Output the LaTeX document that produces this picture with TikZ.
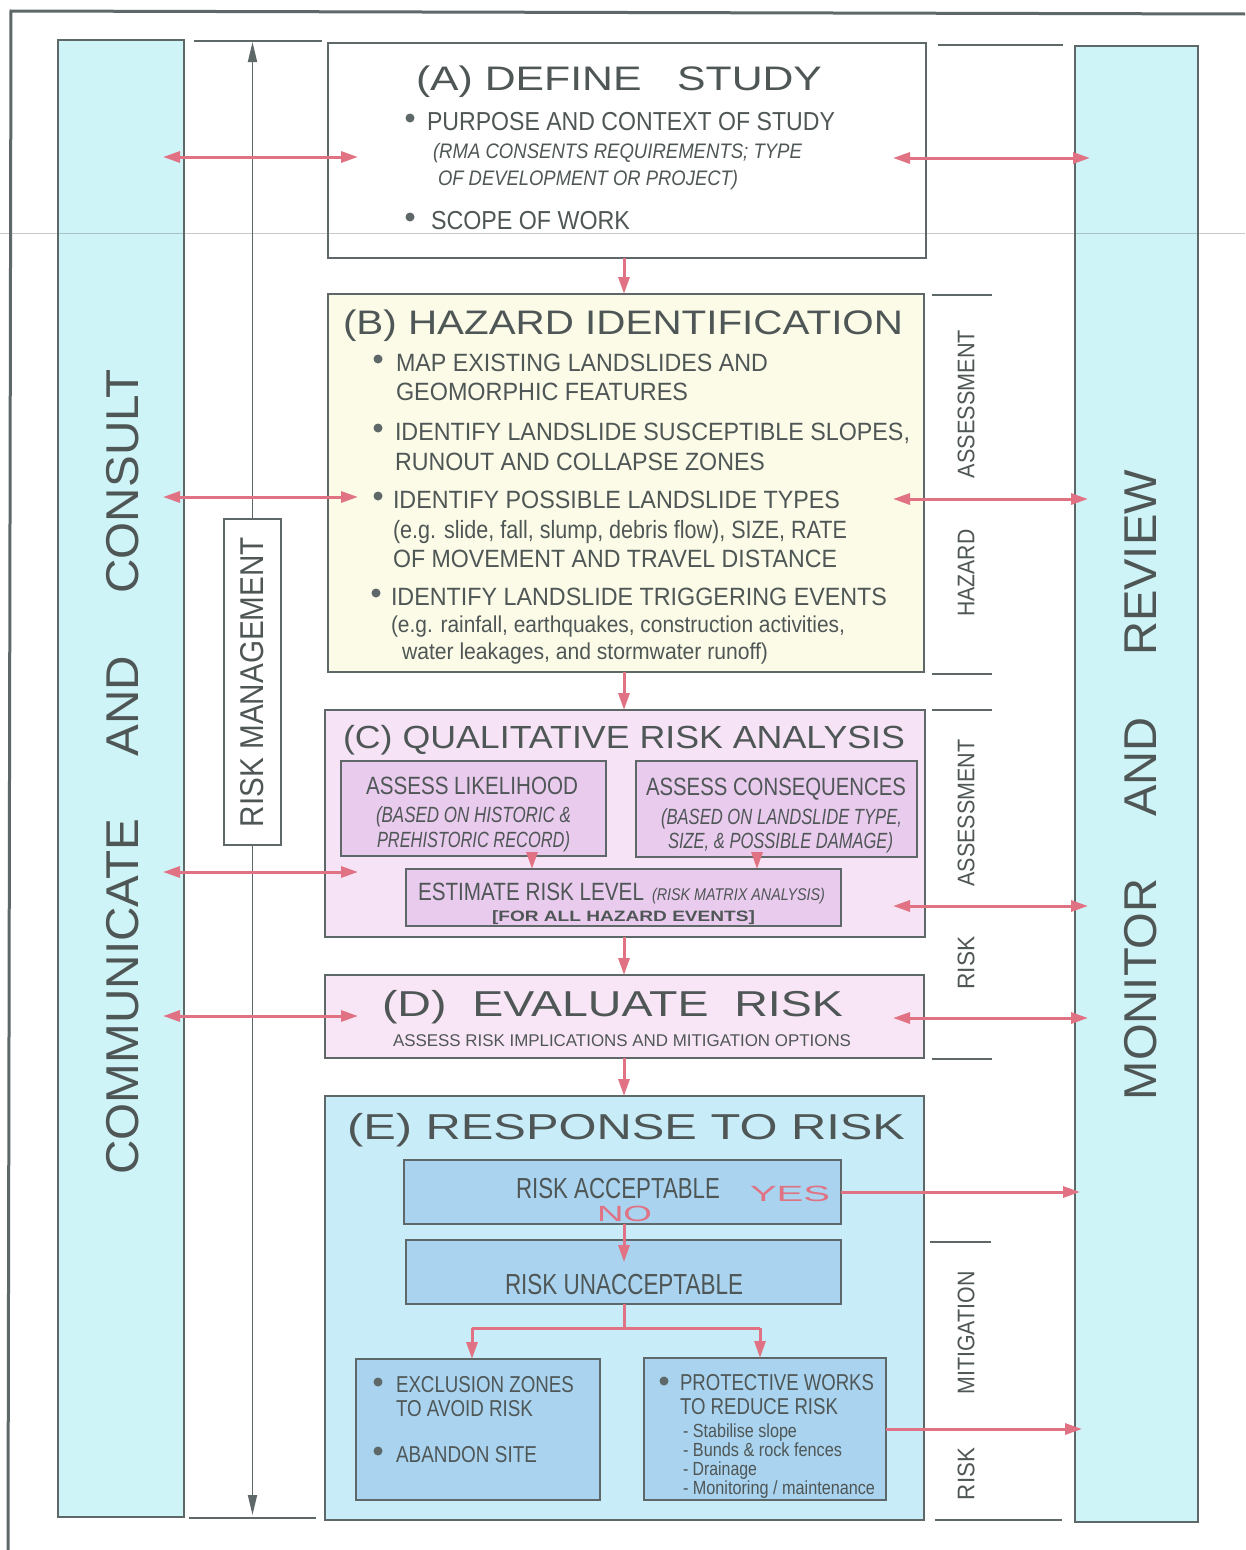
\documentclass[tikz,border=0pt]{standalone}
\usepackage{fontspec}
\setmainfont{Liberation Sans}
\usetikzlibrary{arrows.meta}
\definecolor{lgray}{HTML}{5E6868}
\definecolor{tgray}{HTML}{4F5656}
\definecolor{cyanbar}{HTML}{CFF4F7}
\definecolor{fillB}{HTML}{FBFBE7}
\definecolor{fillC}{HTML}{F6E3F6}
\definecolor{fillCi}{HTML}{E9CBEE}
\definecolor{fillD}{HTML}{F8E6F6}
\definecolor{fillE}{HTML}{C9ECF9}
\definecolor{fillEi}{HTML}{A9D3EE}
\definecolor{ared}{HTML}{E07283}
\newsavebox\fitbox
\newcommand\fitw[2]{\sbox\fitbox{#2}\edef\fitwd{\the\wd\fitbox}\pgfmathsetmacro\fitfx{#1/\fitwd}\scalebox{\fitfx}[1]{\usebox\fitbox}}
\newcommand\fsz[1]{\fontsize{#1}{#1}\selectfont}
\newcommand\mkbox[6]{\node[frame,#6,minimum width={(#4-#2)*1pt},minimum height={(#5-#3)*1pt}] (#1) at (#2,#3) {};}
\begin{document}
\begin{tikzpicture}[x=1pt,y=-1pt,
  frame/.style={draw=lgray, line width=2.4pt, inner sep=0pt, outer sep=0pt, anchor=north west},
  txt/.style={inner sep=0pt, outer sep=0pt, text=tgray, anchor=base west},
  rtxt/.style={inner sep=0pt, outer sep=0pt, text=tgray, anchor=center, rotate=90},
  dot/.style={circle, fill=lgray, inner sep=0pt, minimum size=9pt},
  redline/.style={draw=ared, line width=3pt},
  redarrow/.style={redline, -{Triangle[length=17pt,width=11pt]}},
  dbl/.style={redline, {Triangle[length=17pt,width=11pt]}-{Triangle[length=17pt,width=11pt]}},
  grayarrow/.style={draw=lgray, line width=1.8pt, -{Triangle[length=20pt,width=9pt]}},
  tick/.style={draw=lgray, line width=2pt}]
\useasboundingbox (0,0) rectangle (1245,1550);
\fill[white] (0,0) rectangle (1245,1550);
% outer frame (top and left edges)
\draw[lgray, line width=3pt] (1245,14) -- (11,11) -- (8,1550);
% side bars
\mkbox{lbar}{58}{40}{184}{1517}{fill=cyanbar}
\mkbox{rbar}{1075}{46}{1198}{1522}{fill=cyanbar}
\node[rtxt] (comm) at (123,772) {\fsz{46}\fitw{805}{COMMUNICATE\hspace{60pt}AND\hspace{60pt}CONSULT}};
\node[rtxt] (mon) at (1141,785) {\fsz{46}\fitw{630}{MONITOR\hspace{60pt}AND\hspace{60pt}REVIEW}};
% risk management
\mkbox{rm}{224}{519}{281}{845}{fill=white}
\node[rtxt] (rmt) at (rm.center) {\fsz{33}\fitw{290}{RISK MANAGEMENT}};
\coordinate (rmtop) at (252.5,42);
\coordinate (rmbot) at (252.5,1515);
\draw[grayarrow] (rm.north) -- (rmtop);
\draw[grayarrow] (rm.south) -- (rmbot);
\draw[tick] (194,41) -- (322,41);
\draw[tick] (189,1518) -- (316,1518);
% right ticks
\draw[tick] (938,45) -- (1063,45);
\draw[tick] (932,295) -- (992,295);
\draw[tick] (932,674) -- (992,674);
\draw[tick] (932,710) -- (992,710);
\draw[tick] (932,1059) -- (992,1059);
\draw[tick] (930,1242) -- (991,1242);
\draw[tick] (935,1520) -- (1062,1520);
\node[rtxt] (l1) at (966,404) {\fsz{24}\fitw{148}{ASSESSMENT}};
\node[rtxt] (l2) at (966,573) {\fsz{24}\fitw{87}{HAZARD}};
\node[rtxt] (l3) at (966,813) {\fsz{24}\fitw{147}{ASSESSMENT}};
\node[rtxt] (l4) at (966,963) {\fsz{24}\fitw{53}{RISK}};
\node[rtxt] (l5) at (966,1333) {\fsz{24}\fitw{123}{MITIGATION}};
\node[rtxt] (l6) at (966,1474) {\fsz{24}\fitw{52}{RISK}};
% main boxes
\mkbox{A}{328}{43}{926}{258}{fill=white}
\mkbox{B}{328}{294}{924}{672}{fill=fillB}
\mkbox{C}{325}{710}{925}{937}{fill=fillC}
\mkbox{lik}{341}{761}{606}{856}{fill=fillCi}
\mkbox{con}{636}{761}{917}{857}{fill=fillCi}
\mkbox{est}{406}{869}{841}{926}{fill=fillCi}
\mkbox{D}{325}{975}{924}{1058}{fill=fillD}
\mkbox{E}{325}{1096}{924}{1520}{fill=fillE}
\mkbox{acc}{404}{1160}{841}{1224}{fill=fillEi}
\mkbox{unacc}{406}{1240}{841}{1304}{fill=fillEi}
\mkbox{excl}{356}{1359}{600}{1500}{fill=fillEi}
\mkbox{prot}{644}{1358}{886}{1500}{fill=fillEi}
% vertical flow arrows
\coordinate (sp) at (624,0);
\draw[redarrow] (A.south -| sp) -- (B.north -| sp);
\draw[redarrow] (B.south -| sp) -- (C.north -| sp);
\draw[redarrow] (C.south -| sp) -- (D.north -| sp);
\draw[redarrow] (D.south -| sp) -- (E.north -| sp);
\coordinate (lx) at (532,0);
\coordinate (cx) at (757,0);
\draw[redarrow] (lik.south -| lx) -- (est.north -| lx);
\draw[redarrow] (con.south -| cx) -- (est.north -| cx);
\coordinate (notip) at (624,1262);
\draw[redarrow] (acc.south -| sp) -- (notip);
\coordinate (br) at (624,1328);
\coordinate (bl) at (472,1328);
\coordinate (brr) at (760,1328);
\draw[redline] (unacc.south -| sp) -- (br);
\draw[redline] (bl) -- (brr);
\draw[redarrow] (bl) -- (excl.north -| bl);
\draw[redarrow] (brr) -- (prot.north -| brr);
\coordinate (yesend) at (1080,0);
\draw[redarrow] (acc.east) -- (acc.east -| yesend);
\coordinate (protend) at (1082,0);
\draw[redarrow] (prot.east) -- (prot.east -| protend);
% side double arrows
\coordinate (la1) at (163,157); \coordinate (la2) at (358,157);
\coordinate (ra1) at (893,158); \coordinate (ra2) at (1090,158);
\coordinate (lb1) at (163,497); \coordinate (lb2) at (358,497);
\coordinate (rb1) at (893,499); \coordinate (rb2) at (1088,499);
\coordinate (lc1) at (163,872); \coordinate (lc2) at (358,872);
\coordinate (rc1) at (893,906); \coordinate (rc2) at (1088,906);
\coordinate (ld1) at (163,1016); \coordinate (ld2) at (358,1016);
\coordinate (rd1) at (893,1018); \coordinate (rd2) at (1088,1018);
\draw[dbl] (la1) -- (la2); \draw[dbl] (ra1) -- (ra2);
\draw[dbl] (lb1) -- (lb2); \draw[dbl] (rb1) -- (rb2);
\draw[dbl] (lc1) -- (lc2); \draw[dbl] (rc1) -- (rc2);
\draw[dbl] (ld1) -- (ld2); \draw[dbl] (rd1) -- (rd2);
% box A text
\node[txt] (ta) at (416,90) {\fsz{34}\fitw{406}{(A) DEFINE\ \ \ STUDY}};
\node[dot] (da1) at (410,118) {};
\node[txt] (a1) at (427,130) {\fsz{26}\fitw{408}{PURPOSE AND CONTEXT OF STUDY}};
\node[txt] (a2) at (433,158) {\fsz{21}\itshape\fitw{369}{(RMA CONSENTS REQUIREMENTS; TYPE}};
\node[txt] (a3) at (438,185) {\fsz{21}\itshape\fitw{300}{OF DEVELOPMENT OR PROJECT)}};
\node[dot] (da2) at (410,217) {};
\node[txt] (a4) at (431,229) {\fsz{26}\fitw{199}{SCOPE OF WORK}};
% box B text
\node[txt] (tb) at (343,334) {\fsz{34}\fitw{560}{(B) HAZARD IDENTIFICATION}};
\node[dot] (db1) at (378,359) {};
\node[txt] (b1) at (396,371) {\fsz{25}\fitw{372}{MAP EXISTING LANDSLIDES AND}};
\node[txt] (b2) at (396,400) {\fsz{25}\fitw{292}{GEOMORPHIC FEATURES}};
\node[dot] (db2) at (378,428) {};
\node[txt] (b3) at (395,440) {\fsz{25}\fitw{515}{IDENTIFY LANDSLIDE SUSCEPTIBLE SLOPES,}};
\node[txt] (b4) at (395,470) {\fsz{25}\fitw{370}{RUNOUT AND COLLAPSE ZONES}};
\node[dot] (db3) at (378,496) {};
\node[txt] (b5) at (393,508) {\fsz{25}\fitw{447}{IDENTIFY POSSIBLE LANDSLIDE TYPES}};
\node[txt] (b6) at (393,538) {\fsz{25}\fitw{454}{(e.g. slide, fall, slump, debris flow), SIZE, RATE}};
\node[txt] (b7) at (393,567) {\fsz{25}\fitw{444}{OF MOVEMENT AND TRAVEL DISTANCE}};
\node[dot] (db4) at (376,593) {};
\node[txt] (b8) at (391,605) {\fsz{25}\fitw{496}{IDENTIFY LANDSLIDE TRIGGERING EVENTS}};
\node[txt] (b9) at (391,632) {\fsz{23}\fitw{454}{(e.g. rainfall, earthquakes, construction activities,}};
\node[txt] (b10) at (402,659) {\fsz{23}\fitw{366}{water leakages, and stormwater runoff)}};
% box C text
\node[txt] (tc) at (343,748) {\fsz{32}\fitw{562}{(C) QUALITATIVE RISK ANALYSIS}};
\node[txt] (c1) at (366,794) {\fsz{25}\fitw{212}{ASSESS LIKELIHOOD}};
\node[txt] (c2) at (376,822) {\fsz{22}\itshape\fitw{195}{(BASED ON HISTORIC \&}};
\node[txt] (c3) at (377,847) {\fsz{22}\itshape\fitw{193}{PREHISTORIC RECORD)}};
\node[txt] (c4) at (646,795) {\fsz{25}\fitw{260}{ASSESS CONSEQUENCES}};
\node[txt] (c5) at (661,824) {\fsz{22}\itshape\fitw{241}{(BASED ON LANDSLIDE TYPE,}};
\node[txt] (c6) at (668,848) {\fsz{22}\itshape\fitw{225}{SIZE, \& POSSIBLE DAMAGE)}};
\node[txt] (c7) at (418,900) {\fsz{25}\fitw{226}{ESTIMATE RISK LEVEL}};
\node[txt] (c8) at (652,900) {\fsz{17}\itshape\fitw{173}{(RISK MATRIX ANALYSIS)}};
\node[txt] (c9) at (492,921) {\fsz{15}\bfseries\fitw{263}{[FOR ALL HAZARD EVENTS]}};
% box D text
\node[txt] (td) at (382,1016) {\fsz{36}\fitw{461}{(D)\ \ EVALUATE\ \ RISK}};
\node[txt] (d1) at (393,1046) {\fsz{17}\fitw{458}{ASSESS RISK IMPLICATIONS AND MITIGATION OPTIONS}};
% box E text
\node[txt] (te) at (347,1139) {\fsz{36}\fitw{558}{(E) RESPONSE TO RISK}};
\node[txt] (e1) at (516,1198) {\fsz{29}\fitw{204}{RISK ACCEPTABLE}};
\node[txt, text=ared] (yes) at (750,1201) {\fsz{22}\fitw{80}{YES}};
\node[txt, text=ared] (no) at (597,1221) {\fsz{22}\fitw{55}{NO}};
\node[txt] (e2) at (505,1294) {\fsz{29}\fitw{238}{RISK UNACCEPTABLE}};
\node[dot] (de1) at (378,1382) {};
\node[txt] (e3) at (396,1392) {\fsz{23}\fitw{178}{EXCLUSION ZONES}};
\node[txt] (e4) at (396,1416) {\fsz{23}\fitw{137}{TO AVOID RISK}};
\node[dot] (de2) at (378,1451) {};
\node[txt] (e5) at (396,1462) {\fsz{23}\fitw{141}{ABANDON SITE}};
\node[dot] (de3) at (664,1381) {};
\node[txt] (e6) at (680,1390) {\fsz{23}\fitw{194}{PROTECTIVE WORKS}};
\node[txt] (e7) at (680,1414) {\fsz{23}\fitw{158}{TO REDUCE RISK}};
\node[txt] (e8) at (683,1437) {\fsz{19}\fitw{114}{- Stabilise slope}};
\node[txt] (e9) at (683,1456) {\fsz{19}\fitw{159}{- Bunds \& rock fences}};
\node[txt] (e10) at (683,1475) {\fsz{19}\fitw{74}{- Drainage}};
\node[txt] (e11) at (683,1494) {\fsz{19}\fitw{192}{- Monitoring / maintenance}};
% faint scan line
\draw[lgray, line width=0.8pt, opacity=0.35] (0,233) -- (1245,233);
\end{tikzpicture}
\end{document}
